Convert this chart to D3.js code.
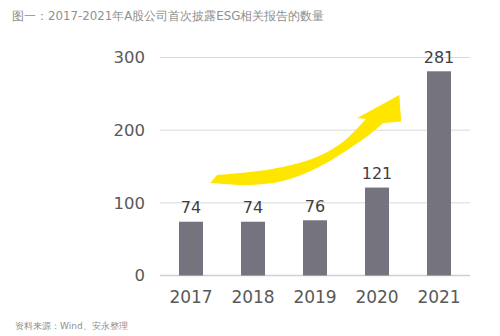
<!DOCTYPE html>
<html><head><meta charset="utf-8">
<script src="https://cdn.jsdelivr.net/npm/d3@7"></script>
<style>html,body{margin:0;padding:0;background:#fff;}svg{display:block;}</style>
</head><body>
<svg id="c" width="500" height="336"></svg>
<script>
const years = ["2017","2018","2019","2020","2021"];
const counts = [74, 74, 76, 121, 281];
const yTicks = [0, 100, 200, 300];
const titleText = "图一：2017-2021年A股公司首次披露ESG相关报告的数量";
const sourceText = "资料来源：Wind、安永整理";
// decorative arrow outline in data space: [category index offset, value]
const arrowTop = [[0.42,138.3],[0.95,142.4],[1.48,149.3],[2.03,163.1],[2.45,183.7],[2.82,215.4]];
const arrowHead = [[2.68,216.7],[3.36,248.4],[3.39,211.9],[3.10,209.9]];
const arrowBottom = [[3.10,209.9],[2.89,194.7],[2.57,175.5],[2.03,147.9],[1.48,130],[0.95,124.5],[0.31,127.3]];

const svg = d3.select("#c");
const font = "'DejaVu Sans', Verdana, sans-serif";
const x = d3.scaleBand().domain(years).range([160,470]).paddingInner(0.613).paddingOuter(0.3065);
const y = d3.scaleLinear().domain([0,300]).range([275.5,57.5]);
const xi = i => 160 + x.step()*0.5 + x.step()*i; // continuous position by index
const xc = d => x(d) + x.bandwidth()/2;

svg.append("text").attr("x",12).attr("y",20).attr("font-family",font).attr("font-size",11.8)
  .attr("fill","#8f8f8f").text(titleText);
svg.append("text").attr("x",15).attr("y",329).attr("font-family",font).attr("font-size",9)
  .attr("fill","#8f8f8f").text(sourceText);

// gridlines
svg.append("g").selectAll("line").data(yTicks).join("line")
  .attr("x1",160).attr("x2",470).attr("y1",d=>y(d)).attr("y2",d=>y(d))
  .attr("stroke",d=>d===0?"#d0d0d0":"#d9d9d9").attr("stroke-width",d=>d===0?1.5:1);

// y axis labels
const ya = svg.append("g").attr("transform","translate(145,0)")
  .call(d3.axisLeft(y).tickValues(yTicks).tickSize(0).tickPadding(0));
ya.select(".domain").remove();
ya.selectAll("text").attr("font-family",font).attr("font-size",16.5).attr("fill","#595959");

// x axis labels
const xa = svg.append("g").attr("transform","translate(0,281)")
  .call(d3.axisBottom(x).tickSize(0).tickPadding(10));
xa.select(".domain").remove();
xa.selectAll("text").attr("font-family",font).attr("font-size",17).attr("fill","#595959");

// bars
svg.append("g").selectAll("rect").data(counts).join("rect")
  .attr("x",(d,i)=>x(years[i])).attr("width",x.bandwidth())
  .attr("y",d=>y(d)).attr("height",d=>y(0)-y(d)).attr("fill","#75737e");

// value labels
svg.append("g").selectAll("text").data(counts).join("text")
  .attr("x",(d,i)=>xc(years[i])).attr("y",d=>y(d)-8.5).attr("text-anchor","middle")
  .attr("font-family",font).attr("font-size",16).attr("fill","#404040").text(d=>d);

// arrow
const curve = d3.line().x(p=>xi(p[0])).y(p=>y(p[1])).curve(d3.curveCatmullRom.alpha(0.5));
const straight = d3.line().x(p=>xi(p[0])).y(p=>y(p[1]));
let d = curve(arrowTop);
d += straight([arrowTop[arrowTop.length-1], ...arrowHead]).replace(/^M[^L]*/, "");
d += curve(arrowBottom).replace(/^M[^C]*/, "");
d += "Z";
svg.append("path").attr("d",d).attr("fill","#ffe600");
</script>
</body></html>
